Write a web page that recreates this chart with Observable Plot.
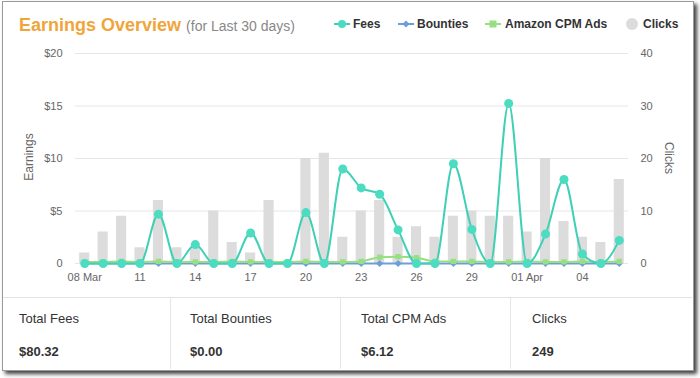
<!DOCTYPE html>
<html><head><meta charset="utf-8">
<script src="https://cdn.jsdelivr.net/npm/d3@7"></script>
<script src="https://cdn.jsdelivr.net/npm/@observablehq/plot@0.6"></script>
<style>
html,body{margin:0;padding:0;background:#fff;}
body{width:700px;height:378px;position:relative;overflow:hidden;font-family:"Liberation Sans",Arial,Helvetica,sans-serif;}
#card{position:absolute;left:2px;top:1px;width:690px;height:368px;border:1px solid #9a9a9a;background:#fff;box-shadow:3px 3px 4px rgba(0,0,0,0.75);}
.abs{position:absolute;white-space:nowrap;}
#title{left:19px;top:15px;line-height:20px;font-size:18px;font-weight:bold;color:#f0a53a;}
#title span{font-size:14px;font-weight:normal;color:#888;margin-left:5px;}
.leg{top:17px;line-height:14px;font-size:12px;font-weight:bold;color:#333;}
#chart{position:absolute;left:0;top:40px;}
.ylab{font-size:12px;color:#666;line-height:14px;}
#hline{left:3px;top:297px;width:689px;height:1px;background:#e2e2e2;}
.vline{top:298px;width:1px;height:71px;background:#e6e6e6;}
.slab{font-size:13px;color:#333;top:311px;line-height:16px;}
.sval{font-size:13px;font-weight:bold;color:#333;top:344px;line-height:16px;}
</style>
</head><body>
<div id="card"></div>
<div id="title" class="abs">Earnings Overview<span>(for Last 30 days)</span></div>
<div id="legend"></div>
<div id="chart"></div>
<div class="abs ylab" style="left:29px;top:157px;transform:translate(-50%,-50%) rotate(-90deg);">Earnings</div>
<div class="abs ylab" style="left:669px;top:158px;transform:translate(-50%,-50%) rotate(90deg);">Clicks</div>
<div id="hline" class="abs"></div>
<div id="summary"></div>
<script>
const days = ["03-08","03-09","03-10","03-11","03-12","03-13","03-14","03-15","03-16","03-17",
  "03-18","03-19","03-20","03-21","03-22","03-23","03-24","03-25","03-26","03-27",
  "03-28","03-29","03-30","03-31","04-01","04-02","04-03","04-04","04-05","04-06"];
const fees = [0,0,0,0,4.7,0,1.8,0,0,2.9, 0,0,4.85,0,9.0,7.2,6.6,3.2,0,0, 9.5,3.25,0,15.25,0,2.8,8.0,0.9,0,2.2];
const bounties = [0,0,0,0,0,0,0,0,0,0, 0,0,0,0,0,0,0,0,0,0, 0,0,0,0,0,0,0,0,0,0];
const amazon = [0.15,0.15,0.2,0.15,0.2,0.15,0.15,0.15,0.2,0.15, 0.15,0.15,0.2,0.15,0.15,0.2,0.6,0.65,0.55,0.2, 0.2,0.2,0.15,0.15,0.2,0.15,0.15,0.2,0.15,0.2];
const clicks = [2,6,9,3,12,3,3,10,4,2, 12,0,20,21,5,10,12,5,7,5, 9,10,9,9,6,20,8,5,4,16];
const xTickDays = ["03-08","03-11","03-14","03-17","03-20","03-23","03-26","03-29","04-01","04-04"];
const xTickLabels = ["08 Mar","11","14","17","20","23","26","29","01 Apr","04"];
const yTickValues = [0,5,10,15,20];
const leftTickLabels = ["0","$5","$10","$15","$20"];
const rightTickLabels = ["0","10","20","30","40"];
const seriesNames = ["Fees","Bounties","Amazon CPM Ads","Clicks"];
const seriesColors = ["#3fd0b5","#6c9fd9","#97df80","#dcdcdc"];
const summaryLabels = ["Total Fees","Total Bounties","Total CPM Ads","Clicks"];
const summaryValues = ["$80.32","$0.00","$6.12","249"];

const data = days.map((d,i)=>({day:d, fees:fees[i], bounties:bounties[i], amazon:amazon[i], clicks:clicks[i]}));

const chart = Plot.plot({
  width:700, height:250,
  marginTop:13, marginBottom:27, marginLeft:75, marginRight:72,
  style:{fontFamily:'"Liberation Sans",Arial,Helvetica,sans-serif', fontSize:"11px", color:"#666", background:"transparent", overflow:"visible"},
  x:{type:"band", domain:days, paddingInner:0.45, paddingOuter:0.225, align:0.5, round:false},
  y:{domain:[0,20]},
  marks:[
    Plot.gridY(yTickValues,{stroke:"#e6e6e6", strokeOpacity:1}),
    Plot.barY(data,{x:"day", y:d=>d.clicks/2, fill:seriesColors[3]}),
    Plot.line(data,{x:"day", y:"bounties", stroke:seriesColors[1], strokeWidth:2}),
    Plot.dot(data,{x:"day", y:"bounties", symbol:"diamond2", r:3.2, fill:seriesColors[1], stroke:"none"}),
    Plot.line(data,{x:"day", y:"amazon", stroke:seriesColors[2], strokeWidth:2, curve:"monotone-x"}),
    Plot.dot(data,{x:"day", y:"amazon", symbol:"square", r:3, fill:seriesColors[2], stroke:"none"}),
    Plot.line(data,{x:"day", y:"fees", stroke:seriesColors[0], strokeWidth:2, curve:"monotone-x"}),
    Plot.dot(data,{x:"day", y:"fees", r:4.5, fill:"#4cdcc1", stroke:"none"}),
    Plot.axisY(yTickValues,{anchor:"left", tickSize:0, tickPadding:13, tickFormat:d=>leftTickLabels[yTickValues.indexOf(d)], label:null}),
    Plot.axisY(yTickValues,{anchor:"right", tickSize:0, tickPadding:12, tickFormat:d=>rightTickLabels[yTickValues.indexOf(d)], label:null}),
    Plot.axisX(xTickDays,{tickSize:0, tickPadding:10, tickFormat:d=>xTickLabels[xTickDays.indexOf(d)], label:null})
  ]
});
document.getElementById("chart").appendChild(chart);

// legend
const legPos = [{sym:342, text:353},{sym:406, text:417},{sym:493, text:505},{sym:632, text:643}];
const legend = document.getElementById("legend");
seriesNames.forEach((name,i)=>{
  const p = legPos[i];
  const el = document.createElement("div");
  el.className = "abs leg";
  el.style.left = p.text + "px";
  el.textContent = name;
  legend.appendChild(el);
  const s = document.createElementNS("http://www.w3.org/2000/svg","svg");
  s.setAttribute("width",20); s.setAttribute("height",14);
  s.style.position="absolute"; s.style.left=(p.sym-10)+"px"; s.style.top="17px";
  let inner = "";
  if (i<3) inner += `<line x1="2" x2="18" y1="7" y2="7" stroke="${seriesColors[i]}" stroke-width="2"/>`;
  if (i===0) inner += `<circle cx="10" cy="7" r="4" fill="#4cdcc1"/>`;
  if (i===1) inner += `<path d="M10 3.5 L13.5 7 L10 10.5 L6.5 7Z" fill="${seriesColors[1]}"/>`;
  if (i===2) inner += `<rect x="6.5" y="3.5" width="7" height="7" fill="${seriesColors[2]}"/>`;
  if (i===3) inner += `<circle cx="10" cy="7" r="6" fill="${seriesColors[3]}"/>`;
  s.innerHTML = inner;
  legend.appendChild(s);
});

// summary
const sumX = [19,190,361,532];
const vX = [170,340,510];
const summary = document.getElementById("summary");
vX.forEach(x=>{const v=document.createElement("div"); v.className="abs vline"; v.style.left=x+"px"; summary.appendChild(v);});
summaryLabels.forEach((lab,i)=>{
  const a=document.createElement("div"); a.className="abs slab"; a.style.left=sumX[i]+"px"; a.textContent=lab; summary.appendChild(a);
  const b=document.createElement("div"); b.className="abs sval"; b.style.left=sumX[i]+"px"; b.textContent=summaryValues[i]; summary.appendChild(b);
});
</script>
</body></html>
